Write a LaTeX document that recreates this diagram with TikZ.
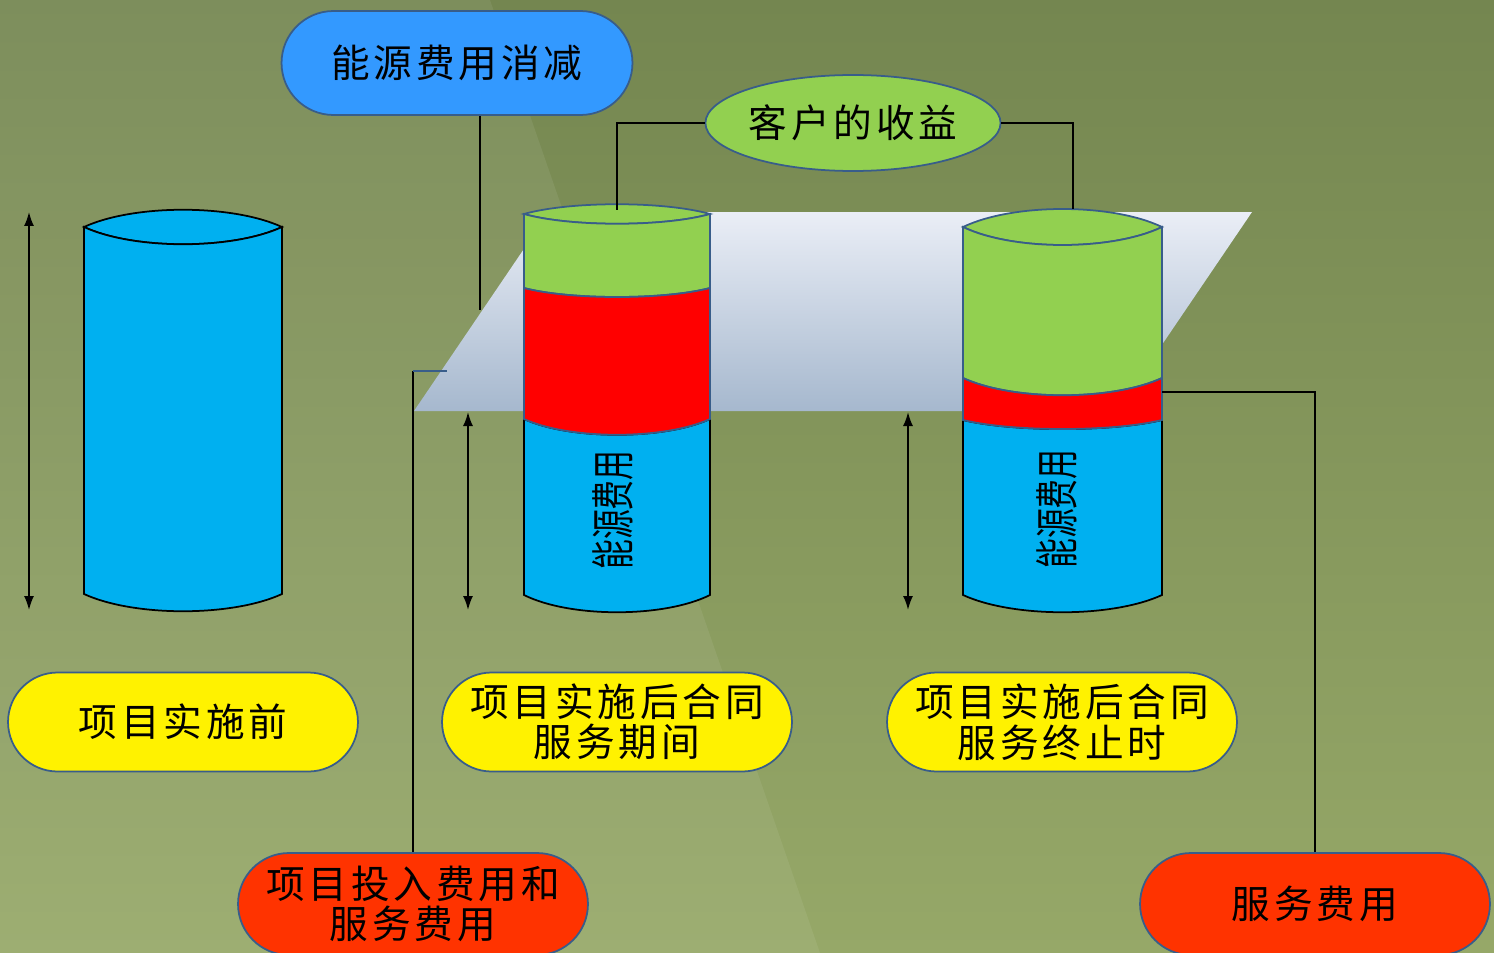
\documentclass[tikz,border=0pt]{standalone}
\usepackage{fontspec}
\newfontfamily\cjk[LetterSpace=10]{Noto Sans CJK SC}
\newfontfamily\cjkv{Noto Sans CJK SC}
\usetikzlibrary{arrows.meta,shapes.geometric}

\definecolor{bgtop}{RGB}{116,134,80}
\definecolor{bgbot}{RGB}{150,168,104}
\definecolor{cylblue}{RGB}{0,176,240}
\definecolor{gaingreen}{RGB}{146,208,80}
\definecolor{slate}{RGB}{56,93,138}
\definecolor{cutblue}{RGB}{51,153,255}
\definecolor{feered}{RGB}{255,51,0}
\definecolor{planetop}{RGB}{234,238,246}
\definecolor{planebot}{RGB}{166,184,206}

\tikzset{
  pill/.style={draw=slate, line width=1pt, rounded corners=0.99cm,
    minimum width=7cm, minimum height=1.98cm, inner sep=0pt, align=center,
    font=\cjk\fontsize{22}{23}\selectfont},
  conn/.style={line width=1.1pt},
  dim/.style={{Latex[length=2.8mm,width=2mm]}-{Latex[length=2.8mm,width=2mm]}, line width=1pt},
  cylside/.style={line width=1pt},
  vlabel/.style={rotate=90, font=\cjkv\fontsize{25}{25}\selectfont}
}

\begin{document}
\begin{tikzpicture}[x=0.02cm, y=-0.02cm]
    \path[use as bounding box, clip] (0,0) rectangle (1494,953);
    \shade[top color=bgtop, bottom color=bgbot] (0,0) rectangle (1494,953);
    \fill[white, opacity=0.07] (0,0) -- (490,0) -- (820,953) -- (0,953) -- cycle;

    \shade[top color=planetop, bottom color=planebot] (549,212) -- (1252,212) -- (1117,411) -- (414,411) -- cycle;

    \coordinate (cutEnd) at (480,310);
    \coordinate (topB) at (617,210);
    \coordinate (topC) at (1073,209);
    \coordinate (planeL) at (447,371);
    \coordinate (sideC) at (1162,392);

    % before
    \draw[cylside, fill=cylblue] (84,227) .. controls +(50,-23) and +(-50,-23) .. (282,227)
        .. controls +(-50,23) and +(50,23) .. (84,227) -- cycle;
    \draw[cylside, fill=cylblue] (84,227) -- (84,594) .. controls +(50,23) and +(-50,23) .. (282,594)
        -- (282,227) .. controls +(-50,23) and +(50,23) .. (84,227) -- cycle;

    % during
    \draw[cylside, draw=slate, fill=gaingreen] (524,214) .. controls +(46,-13) and +(-46,-13) .. (710,214)
        .. controls +(-46,13) and +(46,13) .. (524,214) -- cycle;
    \draw[cylside, draw=slate, fill=gaingreen] (524,214) -- (524,288) .. controls +(46,12) and +(-46,12) .. (710,288)
        -- (710,214) .. controls +(-46,13) and +(46,13) .. (524,214) -- cycle;
    \draw[cylside, fill=cylblue] (524,419) -- (524,595) .. controls +(46,23) and +(-46,23) .. (710,595)
        -- (710,419) .. controls +(-46,21) and +(46,21) .. (524,419) -- cycle;
    \draw[cylside, draw=slate, fill=red] (524,288) -- (524,419) .. controls +(46,21) and +(-46,21) .. (710,419)
        -- (710,288) .. controls +(-46,12) and +(46,12) .. (524,288) -- cycle;
    \node[vlabel] (feeB) at (613,510) {\scalebox{0.68}[1]{能源费用}};

    % after
    \draw[cylside, draw=slate, fill=gaingreen] (963,227) .. controls +(50,-24) and +(-50,-24) .. (1162,227)
        .. controls +(-50,24) and +(50,24) .. (963,227) -- cycle;
    \draw[cylside, draw=slate, fill=gaingreen] (963,227) -- (963,378) .. controls +(50,23) and +(-50,23) .. (1162,378)
        -- (1162,227) .. controls +(-50,24) and +(50,24) .. (963,227) -- cycle;
    \draw[cylside, fill=cylblue] (963,420) -- (963,595) .. controls +(50,23) and +(-50,23) .. (1162,595)
        -- (1162,420) .. controls +(-50,12) and +(50,12) .. (963,420) -- cycle;
    \draw[cylside, draw=slate, fill=red] (963,378) -- (963,420) .. controls +(50,12) and +(-50,12) .. (1162,420)
        -- (1162,378) .. controls +(-50,23) and +(50,23) .. (963,378) -- cycle;
    \node[vlabel] (feeC) at (1057,509) {\scalebox{0.68}[1]{能源费用}};

    \coordinate (hA) at (29,212);
    \coordinate (lA) at (29,610);
    \coordinate (hB) at (468,412);
    \coordinate (lB) at (468,610);
    \coordinate (hC) at (908,412);
    \coordinate (lC) at (908,610);
    \draw[dim] (hA) -- (lA);
    \draw[dim] (hB) -- (lB);
    \draw[dim] (hC) -- (lC);

    \node[pill, fill=cutblue, minimum width=7.02cm, minimum height=2.08cm, rounded corners=1.04cm] (cut) at (457,63) {能源费用消减};
    \node[ellipse, draw=slate, line width=1pt, fill=gaingreen, minimum width=5.48cm, minimum height=1.92cm,
        inner sep=0pt, font=\cjk\fontsize{22}{23}\selectfont] (gain) at (853,123) {客户的收益};
    \node[pill, fill=yellow] (before) at (183,722) {项目实施前};
    \node[pill, fill=yellow] (during) at (617,722) {项目实施后合同\\服务期间};
    \node[pill, fill=yellow] (after) at (1062,722) {项目实施后合同\\服务终止时};
    \node[pill, fill=feered, minimum height=2.04cm, rounded corners=1.02cm] (invest) at (413,904) {项目投入费用和\\服务费用};
    \node[pill, fill=feered, minimum height=2.04cm, rounded corners=1.02cm] (service) at (1315,904) {服务费用};

    \draw[conn] (cutEnd |- cut.south) -- (cutEnd);
    \draw[conn] (gain.west) -| (topB);
    \draw[conn] (gain.east) -| (topC);
    \draw[conn] (invest.north) -- (invest.north |- planeL);
    \draw[conn, slate] (invest.north |- planeL) -- (planeL);
    \draw[conn] (service.north) |- (sideC);
\end{tikzpicture}
\end{document}
